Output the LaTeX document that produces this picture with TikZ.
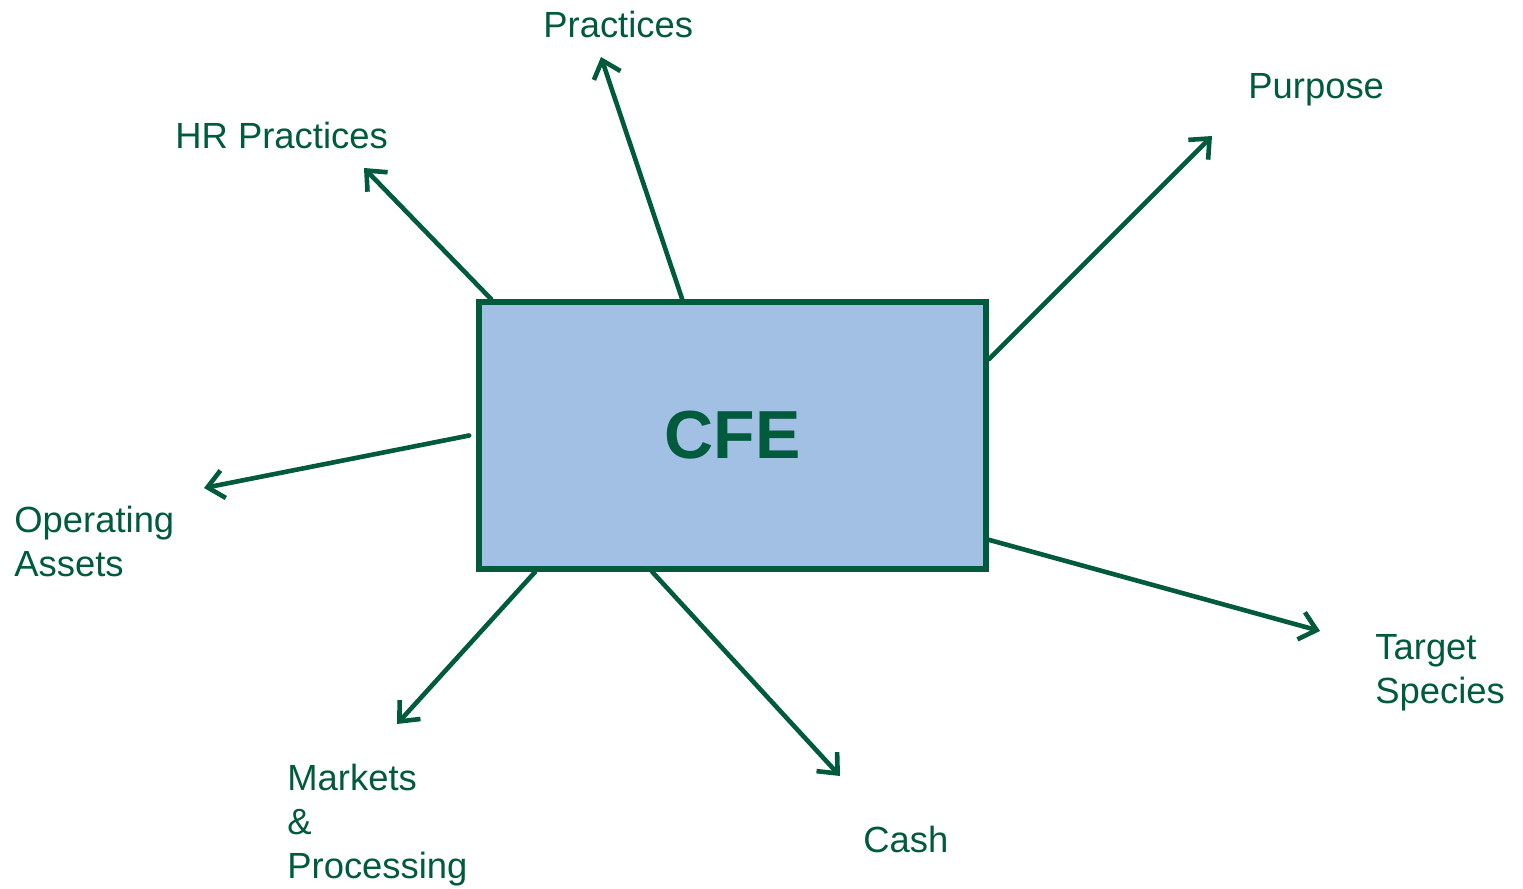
\documentclass[tikz,border=0pt]{standalone}
\usepackage{fontspec}
\setmainfont{Liberation Sans}
\usetikzlibrary{arrows.meta,calc}
\definecolor{cfegreen}{RGB}{0,90,60}
\definecolor{cfeblue}{RGB}{161,192,228}
\tikzset{
  lbl/.style={anchor=base west,inner sep=0pt,align=left,text=cfegreen,
    font=\fontsize{18.2}{22}\selectfont},
  link/.style={->,draw=cfegreen,line width=2.3pt}
}
\begin{document}
\begin{tikzpicture}[line cap=round,line join=round,>={Straight Barb[length=8pt,width=14pt]},x=0.5pt,y=-0.5pt]
		\useasboundingbox (0,0) rectangle (1523,889);
		\node[draw=cfegreen,fill=cfeblue,line width=2.8pt,line cap=butt,line join=miter,minimum width=253.5pt,minimum height=133.5pt,text=cfegreen,font=\fontsize{34}{40}\selectfont\bfseries] (cfe) at (732.5,435.5) {CFE};
		% labels (multi-line ones sit on the baseline of their last line)
		\node[lbl] (prac) at (543,37) {Practices};
		\node[lbl] (hr) at (175,148) {HR Practices};
		\node[lbl] (purp) at (1248,98) {Purpose};
		\node[lbl] (opas) at (14,576) {Operating\\Assets};
		\node[lbl] (targ) at (1375,703) {Target\\Species};
		\node[lbl] (mark) at (287,878) {Markets\\\&\\Processing};
		\node[lbl] (cash) at (863,852) {Cash};
		% arrow ends
		\coordinate (pracend) at (601,57);
		\coordinate (hrend) at (364,168);
		\coordinate (purpend) at (1212,136);
		\coordinate (opasend) at (204,488);
		\coordinate (targend) at (1320,631);
		\coordinate (markend) at (397,724);
		\coordinate (cashend) at (840,776);
		% arrows
		\draw[link] ($(cfe.north west)+(15,0)$) -- (hrend);
		\draw[link] ($(cfe.north west)+(206,0)$) -- (pracend);
		\draw[link] ($(cfe.north east)+(0,60)$) -- (purpend);
		\draw[link] ($(cfe.west)+(-7,0)$) -- (opasend);
		\draw[link] ($(cfe.south east)+(0,-32)$) -- (targend);
		\draw[link] ($(cfe.south west)+(59,0)$) -- (markend);
		\draw[link] ($(cfe.south west)+(176,0)$) -- (cashend);
\end{tikzpicture}
\end{document}
